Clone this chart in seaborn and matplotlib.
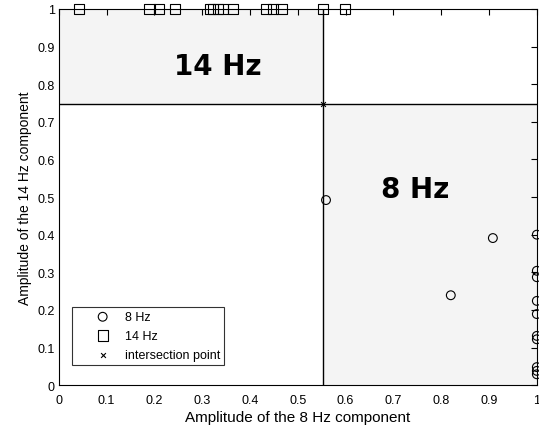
import matplotlib
matplotlib.use("Agg")
import matplotlib.pyplot as plt
import seaborn as sns

sns.set_style("white")
plt.rcParams['font.family'] = ['Liberation Sans', 'DejaVu Sans']
plt.rcParams['text.color'] = 'black'
plt.rcParams['axes.labelcolor'] = 'black'

# data
x8 = [0.559, 0.82, 0.908, 1.0, 1.0, 1.0, 1.0, 1.0, 1.0, 1.0, 1.0, 1.0, 1.0]
y8 = [0.492, 0.239, 0.391, 0.40, 0.304, 0.287, 0.224, 0.189, 0.131, 0.122, 0.048, 0.038, 0.029]
x14 = [0.042, 0.19, 0.21, 0.243, 0.316, 0.323, 0.333, 0.344, 0.365, 0.434, 0.448, 0.466, 0.553, 0.598]
y14 = [1.0] * len(x14)
xi = [0.553]
yi = [0.747]
ticks = [0, 0.1, 0.2, 0.3, 0.4, 0.5, 0.6, 0.7, 0.8, 0.9, 1]
tick_labels = ['0', '0.1', '0.2', '0.3', '0.4', '0.5', '0.6', '0.7', '0.8', '0.9', '1']

fig = plt.figure(figsize=(5.39, 4.31), dpi=100)
ax = fig.add_axes([0.109, 0.104, 0.887, 0.873])

shade = '#f4f4f4'
ax.fill_between([0, xi[0]], yi[0], 1, color=shade, zorder=0, linewidth=0)
ax.fill_between([xi[0], 1], 0, yi[0], color=shade, zorder=0, linewidth=0)
ax.axvline(xi[0], color='black', lw=1, zorder=1)
ax.axhline(yi[0], color='black', lw=1, zorder=1)

sns.scatterplot(x=x8, y=y8, ax=ax, marker='o', s=40, facecolor='none',
                edgecolor='black', linewidth=0.8, label='8 Hz', zorder=3,
                clip_on=False)
sns.scatterplot(x=x14, y=y14, ax=ax, marker='s', s=55, facecolor='none',
                edgecolor='black', linewidth=0.8, label='14 Hz', zorder=3,
                clip_on=False)
sns.scatterplot(x=xi, y=yi, ax=ax, marker='x', s=12, color='black',
                linewidth=0.8, label='intersection point', zorder=3,
                clip_on=False)

ax.text(0.333, 0.849, '14 Hz', fontsize=20, fontweight='bold',
        family=['DejaVu Sans'], ha='center', va='center', color='black')
ax.text(0.745, 0.521, '8 Hz', fontsize=20, fontweight='bold',
        family=['DejaVu Sans'], ha='center', va='center', color='black')

ax.set_xlim(0, 1)
ax.set_ylim(0, 1)
ax.set_xticks(ticks)
ax.set_xticklabels(tick_labels)
ax.set_yticks(ticks)
ax.set_yticklabels(tick_labels)
ax.tick_params(direction='in', top=True, right=True, length=4, width=0.8,
               labelsize=9, colors='black')
ax.tick_params(axis='x', pad=6)
ax.tick_params(axis='y', pad=3)
for sp in ax.spines.values():
    sp.set_color('black')
    sp.set_linewidth(0.8)
ax.set_xlabel('Amplitude of the 8 Hz component', fontsize=11, labelpad=3)
ax.set_ylabel('Amplitude of the 14 Hz component', fontsize=10, labelpad=4)

leg = ax.legend(loc='upper left', bbox_to_anchor=(0.027, 0.207), fontsize=9,
                frameon=True, fancybox=False, edgecolor='black',
                borderpad=0.3, handlelength=4.36, handletextpad=-0.42,
                labelspacing=0.55, borderaxespad=0.0)
leg.get_frame().set_linewidth(0.8)
for t in leg.get_texts():
    t.set_color('black')

fig.savefig('out.png', dpi=100)
